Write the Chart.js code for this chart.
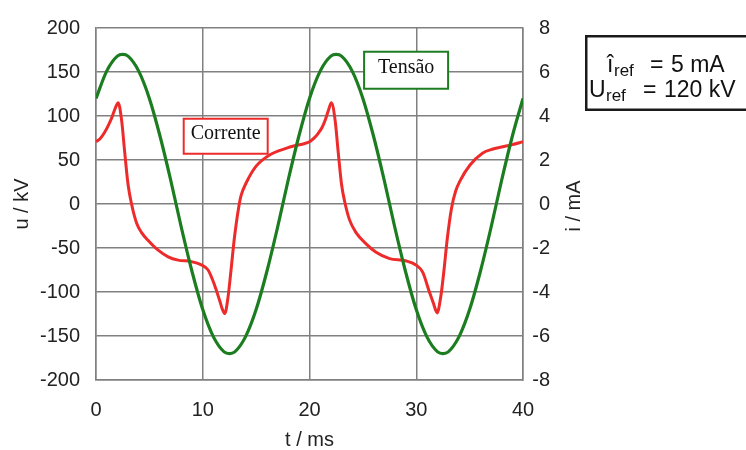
<!DOCTYPE html>
<html>
<head>
<meta charset="utf-8">
<script src="https://cdn.jsdelivr.net/npm/chart.js@4/dist/chart.umd.min.js"></script>
<style>
  body { margin: 0; background: #fff; overflow: hidden; }
</style>
</head>
<body>
<canvas id="chart" width="746" height="450"></canvas>
<script>
// voltage u (kV)
const tVoltage = [0, 1, 2, 2.5, 3, 4, 5, 6, 7, 8, 9, 10, 11, 12, 12.5, 13, 14, 15, 16, 17, 18, 19,
  20, 21, 22, 22.5, 23, 24, 25, 26, 27, 28, 29, 30, 31, 32, 32.5, 33, 34, 35, 36, 37, 38, 39, 40];
const uVoltage = [120, 151, 168, 170, 168, 151, 120, 77, 27, -27, -77, -120, -151, -168, -170, -168, -151, -120, -77, -27, 27, 77,
  120, 151, 168, 170, 168, 151, 120, 77, 27, -27, -77, -120, -151, -168, -170, -168, -151, -120, -77, -27, 27, 77, 120];

// current i (mA)
const tCurrent = [0, 0.4, 0.8, 1.2, 1.5, 1.8, 2.08, 2.4, 2.7, 3, 3.33, 3.8, 4.27, 4.89, 5.82, 6.76, 7.69, 8.94, 9.87, 10.5, 11.12, 11.59, 11.85, 12.06, 12.35, 12.65, 12.95, 13.35, 13.6, 14.1, 15, 16.3, 17.8, 18.7, 19.5,
  20, 20.4, 20.8, 21.2, 21.5, 21.8, 22.05, 22.4, 22.7, 23, 23.3, 23.74, 24.36, 25.3, 26.2, 27.5, 29, 29.97, 30.6, 31.2, 31.6, 31.8, 31.95, 32.3, 32.6, 32.9, 33.3, 33.7, 34.1, 35, 36.2, 37.2, 38.1, 39, 40];
const iCurrent = [2.83, 2.98, 3.25, 3.62, 3.95, 4.35, 4.6, 3.8, 2.3, 0.9, 0.0, -0.86, -1.3, -1.66, -2.1, -2.4, -2.55, -2.62, -2.77, -3.0, -3.7, -4.4, -4.8, -4.98, -4.3, -3.0, -1.6, -0.2, 0.4, 0.99, 1.72, 2.24, 2.53, 2.66, 2.74,
  2.83, 2.98, 3.2, 3.5, 3.85, 4.3, 4.6, 3.8, 2.3, 0.9, 0.1, -0.71, -1.3, -1.81, -2.18, -2.48, -2.58, -2.77, -3.1, -3.95, -4.5, -4.8, -4.95, -4.2, -3.0, -1.6, -0.2, 0.6, 1.05, 1.75, 2.31, 2.5, 2.6, 2.7, 2.83];

const GREEN = '#1b7d1f';
const RED = '#ee2b2b';
const GRID = '#808080';
const SANS = '"Liberation Sans", Arial, sans-serif';
const TICK_FONT = { family: SANS, size: 20 };

// text boxes placed in data units (t, u)
const labelBoxes = [
  { text: 'Corrente', t: 12.15, u: 77, color: RED, w: 84, h: 35 },
  { text: 'Tensão', t: 29.05, u: 152, color: GREEN, w: 84, h: 37 },
];

function drawPieces(ctx, pieces) {
  pieces.forEach(p => {
    ctx.font = p.size + 'px ' + SANS;
    ctx.fillText(p.text, p.x, p.y);
  });
}

const annotations = {
  id: 'annotations',
  afterDatasetsDraw(chart) {
    const { ctx, scales, chartArea } = chart;
    ctx.save();
    labelBoxes.forEach(b => {
      const cx = scales.x.getPixelForValue(b.t);
      const cy = scales.y.getPixelForValue(b.u);
      ctx.fillStyle = '#fff';
      ctx.fillRect(cx - b.w / 2, cy - b.h / 2, b.w, b.h);
      ctx.strokeStyle = b.color;
      ctx.lineWidth = 2;
      ctx.strokeRect(cx - b.w / 2, cy - b.h / 2, b.w, b.h);
      ctx.fillStyle = '#111';
      ctx.font = '20px "Liberation Serif", "Times New Roman", serif';
      ctx.textAlign = 'center';
      ctx.textBaseline = 'middle';
      ctx.fillText(b.text, cx, cy - 2);
    });

    // reference values box, outside the plot
    ctx.strokeStyle = '#1a1a1a';
    ctx.lineWidth = 2.5;
    ctx.strokeRect(586.25, 36.25, 200, 73.5);
    ctx.fillStyle = '#111';
    ctx.textAlign = 'left';
    ctx.textBaseline = 'alphabetic';
    drawPieces(ctx, [
      { text: 'î', x: 607, y: 72, size: 23 },
      { text: 'ref', x: 614, y: 76, size: 17 },
      { text: '=', x: 650, y: 72, size: 23 },
      { text: '5 mA', x: 671, y: 72, size: 23 },
      { text: 'U', x: 589, y: 97, size: 23 },
      { text: 'ref', x: 606, y: 101, size: 17 },
      { text: '=', x: 643, y: 97, size: 23 },
      { text: '120 kV', x: 664, y: 97, size: 23 },
    ]);

    // right axis title, reading bottom to top
    ctx.translate(574, (chartArea.top + chartArea.bottom) / 2 + 2);
    ctx.rotate(-Math.PI / 2);
    ctx.font = '20px ' + SANS;
    ctx.fillStyle = '#222';
    ctx.textAlign = 'center';
    ctx.textBaseline = 'middle';
    ctx.fillText('i / mA', 0, 0);
    ctx.restore();
  }
};

const ctx = document.getElementById('chart').getContext('2d');
new Chart(ctx, {
  type: 'line',
  data: {
    datasets: [
      {
        label: 'Tensão',
        data: tVoltage.map((t, k) => ({ x: t, y: uVoltage[k] })),
        borderColor: GREEN,
        borderWidth: 3.2,
        yAxisID: 'y',
      },
      {
        label: 'Corrente',
        data: tCurrent.map((t, k) => ({ x: t, y: iCurrent[k] })),
        borderColor: RED,
        borderWidth: 3,
        yAxisID: 'y1',
      },
    ],
  },
  options: {
    responsive: false,
    animation: false,
    layout: { padding: { top: 18, left: 0, right: 196, bottom: 0 } },
    elements: {
      point: { radius: 0 },
      line: { cubicInterpolationMode: 'monotone' },
    },
    plugins: { legend: { display: false }, tooltip: { enabled: false } },
    scales: {
      x: {
        type: 'linear',
        min: 0,
        max: 40,
        ticks: { stepSize: 10, font: TICK_FONT, color: '#222', padding: 18 },
        grid: { color: GRID, lineWidth: 1.5, drawTicks: false },
        border: { color: GRID, width: 1.5 },
        title: { display: true, text: 't / ms', font: TICK_FONT, color: '#222', padding: { top: 0, bottom: -2 } },
        afterFit(scale) { scale.height = 70; },
      },
      y: {
        position: 'left',
        min: -200,
        max: 200,
        ticks: { stepSize: 50, font: TICK_FONT, color: '#222', padding: 16 },
        grid: { color: GRID, lineWidth: 1.5, drawTicks: false },
        border: { color: GRID, width: 1.5 },
        title: { display: true, text: 'u / kV', font: TICK_FONT, color: '#222', padding: { top: 10, bottom: 0 } },
        afterFit(scale) { scale.width = 96; },
      },
      y1: {
        position: 'right',
        min: -8,
        max: 8,
        ticks: { stepSize: 2, font: TICK_FONT, color: '#222', padding: 9, crossAlign: 'far' },
        grid: { drawOnChartArea: false, drawTicks: false },
        border: { color: GRID, width: 1.5 },
        afterFit(scale) { scale.width = 27; },
      },
    },
  },
  plugins: [annotations],
});
</script>
</body>
</html>
